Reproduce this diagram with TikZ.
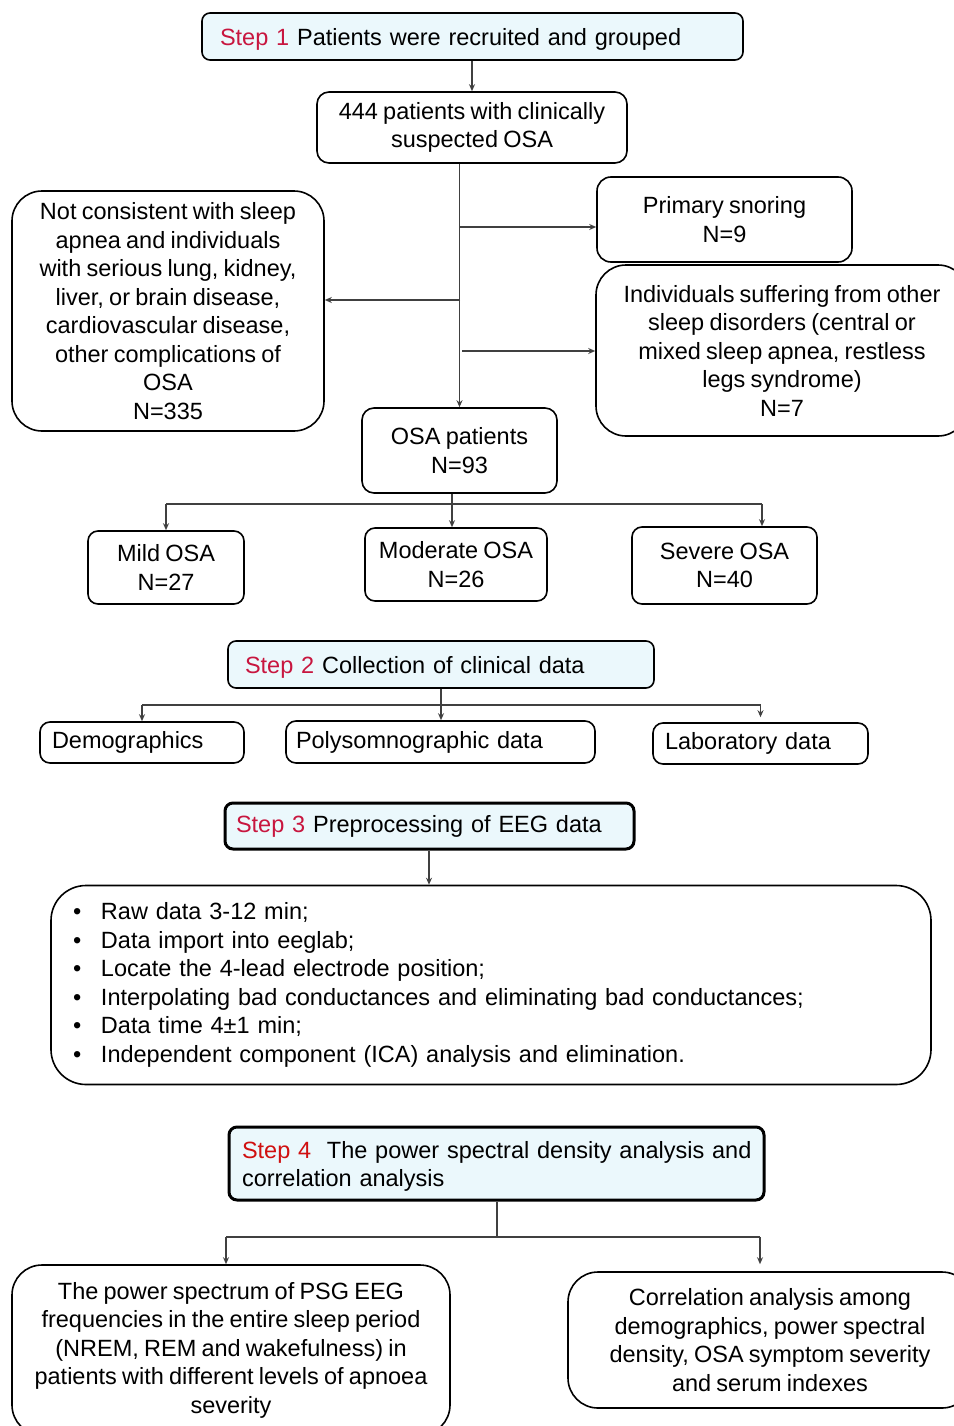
\documentclass[tikz,border=0pt]{standalone}
\usepackage{fontspec}
\setmainfont{Liberation Sans}[WordSpace=0.8]
\usetikzlibrary{arrows.meta}
\definecolor{stepred}{HTML}{C8163F}
\definecolor{stepredB}{HTML}{D01010}
\definecolor{stepfill}{HTML}{EBF8FC}
\definecolor{linegray}{HTML}{404040}
\newcommand\stp[1]{\textcolor{stepred}{#1}}
\tikzset{
  box/.style={draw=black, line width=1.6pt, rounded corners=10pt, inner sep=0pt, align=center,
    font=\fontsize{23.5}{28.5}\selectfont},
  stepbox/.style={box, fill=stepfill, rounded corners=8pt, align=left},
  thickstep/.style={stepbox, line width=3pt},
  bigbox/.style={box, rounded corners=30pt},
  conn/.style={draw=linegray, line width=1.2pt},
  arr/.style={conn, -{Stealth[length=7pt,width=6pt]}},
}
\begin{document}
\begin{tikzpicture}[x=1pt,y=-1pt]
\path[use as bounding box] (0,0) rectangle (953,1426);

% Step 1
\node[stepbox, minimum width=541pt, minimum height=47pt, text width=505pt, inner xsep=18pt, text height=23pt, text depth=5pt] (s1) at (472.5,36.5)
  {\stp{Step 1} Patients were recruited and grouped};
\node[box, rounded corners=12pt, minimum width=310pt, minimum height=71pt] (p444) at (472,127.5)
  {444 patients with clinically\\suspected OSA};
\node[bigbox, minimum width=312pt, minimum height=240pt] (ncons) at (168,311)
  {Not consistent with sleep\\apnea and individuals\\with serious lung, kidney,\\liver, or brain disease,\\cardiovascular disease,\\other complications of\\OSA\\N=335};
\node[box, rounded corners=14pt, minimum width=255pt, minimum height=85pt] (snor) at (724.5,219.5)
  {Primary snoring\\N=9};
\node[bigbox, minimum width=372pt, minimum height=171pt] (indiv) at (782,350.5)
  {Individuals suffering from other\\sleep disorders (central or\\mixed sleep apnea, restless\\legs syndrome)\\N=7};
\node[box, rounded corners=12pt, minimum width=195pt, minimum height=85pt] (osa) at (459.5,450.5)
  {OSA patients\\N=93};
\node[box, minimum width=156pt, minimum height=73pt] (mild) at (166,567.5) {Mild OSA\\N=27};
\node[box, minimum width=182pt, minimum height=73pt] (mod) at (456,564.5) {Moderate OSA\\N=26};
\node[box, minimum width=185pt, minimum height=77pt] (sev) at (724.5,565.5) {Severe OSA\\N=40};

\draw[arr] (s1.south -| p444.north) -- (p444.north);
\draw[arr] (p444.south -| osa.north) -- (osa.north);
\coordinate (b1) at (460,227);
\coordinate (b2) at (460,300);
\coordinate (b3) at (462,351);
\draw[arr] (b1) -- (b1 -| snor.west);
\draw[arr] (b2) -- (b2 -| ncons.east);
\draw[arr] (b3) -- (b3 -| indiv.west);

\coordinate (j1) at (452,504);
\coordinate (j1s) at (762,504);
\draw[conn] (osa.south -| j1) -- (j1);
\draw[conn] (j1 -| mild.north) -- (j1s);
\draw[arr] (j1 -| mild.north) -- (mild.north);
\draw[arr] (j1) -- (j1 |- mod.north);
\draw[arr] (j1s) -- (j1s |- sev.north);

% Step 2
\node[stepbox, minimum width=426pt, minimum height=47pt, text width=392pt, inner xsep=17pt, text height=23pt, text depth=5pt] (s2) at (441,664.5)
  {\stp{Step 2} Collection of clinical data};
\node[box, align=left, minimum width=204pt, minimum height=41pt, text width=180pt, inner xsep=12pt] (demo) at (142,742.5) {Demographics};
\node[box, align=left, minimum width=309pt, minimum height=42pt, text width=289pt, inner xsep=10pt] (poly) at (440.5,742) {Polysomnographic data};
\node[box, align=left, minimum width=215pt, minimum height=41pt, text width=191pt, inner xsep=12pt] (lab) at (760.5,743.5) {Laboratory data};

\coordinate (j2) at (441,705);
\draw[conn] (s2.south -| j2) -- (j2);
\draw[conn] (j2 -| demo.north) -- (j2 -| lab.north);
\draw[arr] (j2 -| demo.north) -- (demo.north);
\draw[arr] (j2) -- (j2 |- poly.north);
\draw[arr, shorten >=5pt] (j2 -| lab.north) -- (lab.north);

% Step 3
\node[thickstep, minimum width=409pt, minimum height=46pt, text width=387pt, inner xsep=11pt] (s3) at (429.5,826)
  {\stp{Step 3} Preprocessing of EEG data};
\node[box, rounded corners=35pt, align=left, minimum width=880pt, minimum height=199pt, text width=836pt, inner xsep=22pt] (list) at (491,985)
  {\makebox[28pt][l]{\textbullet}Raw data 3-12 min;\\
   \makebox[28pt][l]{\textbullet}Data import into eeglab;\\
   \makebox[28pt][l]{\textbullet}Locate the 4-lead electrode position;\\
   \makebox[28pt][l]{\textbullet}Interpolating bad conductances and eliminating bad conductances;\\
   \makebox[28pt][l]{\textbullet}Data time 4±1 min;\\
   \makebox[28pt][l]{\textbullet}Independent component (ICA) analysis and elimination.};
\coordinate (a3) at (429,849);
\draw[arr] (s3.south -| a3) -- (a3 |- list.north);

% Step 4
\node[thickstep, minimum width=535pt, minimum height=73pt, text width=509pt, inner xsep=13pt] (s4) at (496.5,1163.5)
  {\rule{0pt}{23pt}\mbox{\textcolor{stepredB}{Step 4}\ \ The power spectral density analysis and}\\correlation analysis};
\node[bigbox, minimum width=438pt, minimum height=170pt] (psd) at (231,1350)
  {The power spectrum of PSG EEG\\frequencies in the entire sleep period\\(NREM, REM and wakefulness) in\\patients with different levels of apnoea\\severity};
\node[bigbox, minimum width=404pt, minimum height=136pt] (corr) at (770,1340)
  {Correlation analysis among\\demographics, power spectral\\density, OSA symptom severity\\and serum indexes};

\coordinate (j4) at (497,1237);
\coordinate (j4l) at (226,1237);
\coordinate (j4r) at (760,1237);
\draw[conn] (s4.south -| j4) -- (j4);
\draw[conn] (j4l) -- (j4r);
\draw[arr] (j4l) -- (j4l |- psd.north);
\draw[arr, shorten >=7pt] (j4r) -- (j4r |- corr.north);
\end{tikzpicture}
\end{document}
